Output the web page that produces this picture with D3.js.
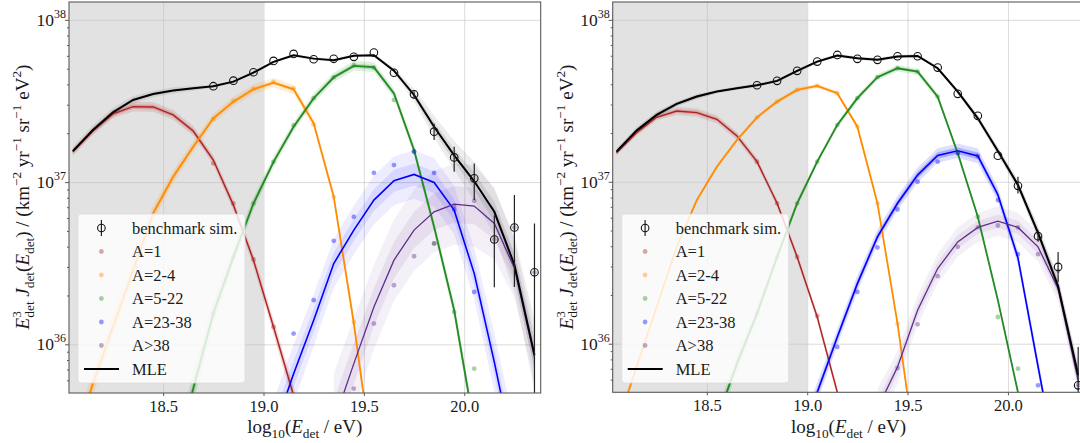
<!DOCTYPE html>
<html>
<head>
<meta charset="utf-8">
<script src="https://cdn.jsdelivr.net/npm/d3@7"></script>
<style>
  body { margin: 0; background: #fff; }
</style>
</head>
<body>
<svg id="chart" width="1080" height="443"></svg>
<script>
// bin centres, log10(E/eV)
const logE = [18.05, 18.15, 18.25, 18.35, 18.45, 18.55, 18.65, 18.75, 18.85, 18.95, 19.05, 19.15,
              19.25, 19.35, 19.45, 19.55, 19.65, 19.75, 19.85, 19.95, 20.05, 20.15, 20.25, 20.35];
const xTicks = [18.5, 19.0, 19.5, 20.0];
const yTicks = [36, 37, 38];
const groups = ["A=1", "A=2-4", "A=5-22", "A=23-38", "A>38"];
const groupColors = ["#b22222", "#ff8c00", "#228b22", "#0000ff", "#5f2d8c"];
const groupWidths = [1.4, 1.8, 1.8, 1.6, 1.3];
const _ = null;

// ---- left panel (values are log10 of E^3 J) ----
const leftTotal = [37.191, 37.321, 37.430, 37.506, 37.543, 37.564, 37.578, 37.591, 37.619, 37.675, 37.741, 37.782,
                   37.761, 37.751, 37.778, 37.782, 37.687, 37.537, 37.341, 37.165, 37.005, 36.817, 36.490, 35.935];
const leftBench   = [_, _, _, _, _, _, _, 37.591, 37.625, 37.677, 37.747, 37.790,
                     37.757, 37.760, 37.772, 37.798, 37.674, 37.541, 37.311, 37.152, 37.023, 36.646, 36.720, 36.444];
const leftBenchLo = [_, _, _, _, _, _, _, _, _, _, _, _, _, _, _, _, _, 37.52, 37.26, 37.064, 36.889, 36.352, 36.354, 35.0];
const leftBenchHi = [_, _, _, _, _, _, _, _, _, _, _, _, _, _, _, _, _, 37.56, 37.36, 37.218, 37.115, 36.796, 36.920, 36.745];

const leftA1   = [37.187, 37.315, 37.420, 37.465, 37.463, 37.414, 37.315, 37.136, 36.858, 36.519, 36.107, 35.685,
                  35.25, _, _, _, _, _, _, _, _, _, _, _];
const leftA24  = [35.35, 35.759, 36.107, 36.457, 36.807, 37.033, 37.218, 37.393, 37.496, 37.572, 37.613, 37.572,
                  37.362, 36.909, 36.13, 35.22, _, _, _, _, _, _, _, _];
const leftA522 = [_, _, _, _, _, 35.27, 35.727, 36.19, 36.539, 36.868, 37.125, 37.341,
                  37.517, 37.646, 37.716, 37.708, 37.547, 37.198, 36.724, 36.210, 35.49, _, _, _];
const leftA2338 = [_, _, _, _, _, _, _, _, _, _, 35.46, 35.819,
                   36.148, 36.498, 36.704, 36.889, 37.008, 37.047, 36.998, 36.827, 36.436, 35.89, 35.3, _];
const leftA38  = [_, _, _, _, _, _, _, _, _, _, _, _,
                  _, 35.52, 35.881, 36.230, 36.519, 36.704, 36.817, 36.864, 36.852, 36.745, 36.470, 35.920];

const leftDotA1   = [_, _, _, _, _, _, _, 37.115, 36.868, 36.523, 36.107, _, _, _, _, _, _, _, _, _, _, _, _, _];
const leftDotA24  = [_, _, _, _, _, _, _, 37.389, 37.500, 37.575, 37.617, 37.578, 37.356, 36.909, 36.138, _, _, _, _, _, _, _, _, _];
const leftDotA522 = [_, _, _, _, _, _, _, 36.19, 36.539, 36.868, 37.125, 37.35, 37.517, 37.646, 37.72, 37.705, 37.506, 37.19, 36.621, 36.2, 35.85, _, _, _];
const leftDotA2338 = [_, _, _, _, _, _, _, _, _, _, _, 36.066, 36.272, 36.638, 36.786, 37.057, 37.105, 37.187, 37.057, 36.83, 36.323, _, _, _];
const leftDotA38  = [_, _, _, _, _, _, _, _, _, _, _, _, _, _, 35.727, 36.128, 36.364, 36.543, 36.622, 36.852, 36.885, 36.646, 36.720, 36.444];

// spread of the posterior sample curves, dex
const leftBandTotal = [0.03, 0.03, 0.03, 0.025, 0.02, 0.02, 0.015, 0.01, 0.01, 0.01, 0.01, 0.01,
                       0.01, 0.01, 0.01, 0.01, 0.02, 0.04, 0.07, 0.09, 0.12, 0.14, 0.17, 0.22];
const leftBandA1   = [0.02, 0.02, 0.025, 0.03, 0.03, 0.03, 0.03, 0.03, 0.035, 0.04, 0.05, 0.06, 0.07, _, _, _, _, _, _, _, _, _, _, _];
const leftBandA24  = [0.1, 0.08, 0.07, 0.06, 0.05, 0.04, 0.035, 0.03, 0.03, 0.03, 0.03, 0.03, 0.03, 0.03, 0.04, 0.05, _, _, _, _, _, _, _, _];
const leftBandA522 = [_, _, _, _, _, 0.1, 0.09, 0.07, 0.05, 0.04, 0.035, 0.03, 0.03, 0.03, 0.03, 0.03, 0.03, 0.035, 0.04, 0.05, 0.06, _, _, _];
const leftBandA2338 = [_, _, _, _, _, _, _, _, _, _, 0.2, 0.18, 0.16, 0.15, 0.15, 0.15, 0.15, 0.15, 0.15, 0.15, 0.16, 0.18, 0.2, _];
const leftBandA38  = [_, _, _, _, _, _, _, _, _, _, _, _, _, 0.3, 0.28, 0.26, 0.25, 0.25, 0.25, 0.25, 0.25, 0.22, 0.18, 0.15];

// ---- right panel ----
const rightTotal = [37.186, 37.316, 37.413, 37.481, 37.526, 37.557, 37.578, 37.596, 37.623, 37.685, 37.742, 37.779,
                    37.763, 37.753, 37.773, 37.777, 37.701, 37.557, 37.392, 37.190, 36.980, 36.685, 36.355, 35.805];
const rightBench   = [_, _, _, _, _, _, _, 37.596, 37.623, 37.685, 37.742, 37.783,
                      37.759, 37.753, 37.775, 37.775, 37.705, 37.543, 37.407, 37.161, 36.975, 36.664, 36.474, 35.743];
const rightBenchLo = [_, _, _, _, _, _, _, _, _, _, _, _, _, _, _, _, _, _, _, _, 36.928, 36.63, 36.381, 35.0];
const rightBenchHi = [_, _, _, _, _, _, _, _, _, _, _, _, _, _, _, _, _, _, _, _, 37.031, 36.70, 36.567, 35.980];

const rightA1   = [37.179, 37.303, 37.398, 37.437, 37.427, 37.386, 37.283, 37.124, 36.867, 36.536, 36.165, 35.70,
                   35.24, _, _, _, _, _, _, _, _, _, _, _];
const rightA24  = [35.486, 35.856, 36.227, 36.598, 36.887, 37.093, 37.258, 37.398, 37.495, 37.567, 37.592, 37.547,
                   37.340, 36.867, 36.124, 35.24, _, _, _, _, _, _, _, _];
const rightA522 = [_, _, _, _, _, 35.53, 35.877, 36.186, 36.536, 36.867, 37.124, 37.351,
                   37.516, 37.646, 37.701, 37.680, 37.526, 37.176, 36.784, 36.268, 35.70, 35.15, _, _];
const rightA2338 = [_, _, _, _, _, _, _, _, _, 35.36, 35.70, 36.041,
                    36.371, 36.660, 36.867, 37.041, 37.162, 37.191, 37.160, 36.920, 36.530, 35.86, 35.2, _];
const rightA38  = [_, _, _, _, _, _, _, _, _, _, _, _,
                   _, 35.60, 35.856, 36.207, 36.464, 36.629, 36.718, 36.757, 36.718, 36.598, 36.340, 35.774];

const rightDotA1   = [_, _, _, _, _, _, _, 37.124, 36.867, 36.536, 36.171, _, _, _, _, _, _, _, _, _, _, _, _, _];
const rightDotA24  = [_, _, _, _, _, _, _, 37.398, 37.495, 37.567, 37.592, 37.547, 37.340, 36.867, 36.124, _, _, _, _, _, _, _, _, _];
const rightDotA522 = [_, _, _, _, _, _, _, 36.186, 36.536, 36.867, 37.124, 37.35, 37.516, 37.646, 37.701, 37.68, 37.526, 37.18, 36.784, 36.165, 35.846, _, _, _];
const rightDotA2338 = [_, _, _, _, _, _, _, _, _, _, _, 35.98, 36.32, 36.594, 36.829, 37.0, 37.124, 37.176, 37.159, 36.887, 36.553, 35.743, _, _];
const rightDotA38  = [_, _, _, _, _, _, _, _, _, _, _, _, _, _, 35.85, 36.12, 36.417, 36.598, 36.718, 36.730, 36.718, 36.553, 36.45, 35.743];

const rightBandTotal = [0.02, 0.02, 0.02, 0.015, 0.015, 0.01, 0.01, 0.01, 0.01, 0.01, 0.01, 0.01,
                        0.01, 0.01, 0.01, 0.01, 0.01, 0.015, 0.02, 0.025, 0.03, 0.04, 0.05, 0.07];
const rightBandA1   = [0.015, 0.02, 0.02, 0.025, 0.025, 0.025, 0.025, 0.025, 0.025, 0.025, 0.03, 0.03, 0.03, _, _, _, _, _, _, _, _, _, _, _];
const rightBandA24  = [0.03, 0.025, 0.02, 0.015, 0.015, 0.015, 0.015, 0.015, 0.015, 0.015, 0.015, 0.015, 0.015, 0.015, 0.015, 0.015, _, _, _, _, _, _, _, _];
const rightBandA522 = [_, _, _, _, _, 0.06, 0.05, 0.04, 0.03, 0.025, 0.02, 0.02, 0.02, 0.02, 0.02, 0.02, 0.02, 0.02, 0.015, 0.015, 0.015, 0.015, _, _];
const rightBandA2338 = [_, _, _, _, _, _, _, _, _, 0.07, 0.06, 0.05, 0.05, 0.045, 0.045, 0.045, 0.045, 0.045, 0.045, 0.045, 0.045, 0.05, 0.05, _];
const rightBandA38  = [_, _, _, _, _, _, _, _, _, _, _, _, _, 0.12, 0.1, 0.09, 0.09, 0.09, 0.09, 0.09, 0.09, 0.09, 0.08, 0.07];

const serif = '"Liberation Serif", "DejaVu Serif", "Times New Roman", serif';
const svg = d3.select("#chart");
const xDomain = [18.031, 20.381];
const yDomain = [Math.pow(10, 35.70), Math.pow(10, 38.11)];

const panels = [
  { x0: 69, y0: 2, w: 471.7, h: 391,
    total: leftTotal, bandTotal: leftBandTotal,
    bench: leftBench, benchLo: leftBenchLo, benchHi: leftBenchHi,
    comps: [leftA1, leftA24, leftA522, leftA2338, leftA38],
    dots: [leftDotA1, leftDotA24, leftDotA522, leftDotA2338, leftDotA38],
    bands: [leftBandA1, leftBandA24, leftBandA522, leftBandA2338, leftBandA38] },
  { x0: 612.7, y0: 2, w: 471.7, h: 390.3,
    total: rightTotal, bandTotal: rightBandTotal,
    bench: rightBench, benchLo: rightBenchLo, benchHi: rightBenchHi,
    comps: [rightA1, rightA24, rightA522, rightA2338, rightA38],
    dots: [rightDotA1, rightDotA24, rightDotA522, rightDotA2338, rightDotA38],
    bands: [rightBandA1, rightBandA24, rightBandA522, rightBandA2338, rightBandA38] }
];

const fs = 16.5;
const labelFs = 19;
const p10 = v => Math.pow(10, v);

// text made of pieces: {t, it, sup, sub, back}
function richText(sel, parts, size) {
  let shift = 0;
  parts.forEach(pc => {
    const target = pc.sup ? -0.42 * size : pc.sub ? 0.25 * size : 0;
    const ts = sel.append("tspan").text(pc.t)
      .attr("dy", target - shift)
      .style("font-size", (pc.sup || pc.sub ? 0.7 * size : size) + "px");
    if (pc.it) ts.style("font-style", "italic");
    if (pc.back) ts.attr("dx", -pc.back);
    shift = target;
  });
}

const yLabelParts = [
  { t: "E", it: true }, { t: "3", sup: true }, { t: "det", sub: true, back: 6.5 },
  { t: " J", it: true }, { t: "det", sub: true }, { t: "(" }, { t: "E", it: true }, { t: "det", sub: true },
  { t: ")  /  (km" }, { t: "−2", sup: true }, { t: " yr" }, { t: "−1", sup: true },
  { t: " sr" }, { t: "−1", sup: true }, { t: " eV" }, { t: "2", sup: true }, { t: ")" }
];
const xLabelParts = [
  { t: "log" }, { t: "10", sub: true }, { t: "(" }, { t: "E", it: true }, { t: "det", sub: true }, { t: "  /  eV)" }
];

function drawPanel(p, idx) {
  const g = svg.append("g").attr("transform", `translate(${p.x0},${p.y0})`);
  const x = d3.scaleLinear().domain(xDomain).range([0, p.w]);
  const y = d3.scaleLog().domain(yDomain).range([p.h, 0]);

  g.append("clipPath").attr("id", "clip" + idx)
    .append("rect").attr("width", p.w).attr("height", p.h);

  // shaded low-energy region
  g.append("rect").attr("width", x(19.0)).attr("height", p.h).attr("fill", "#e2e2e2");

  // grid
  g.append("g").attr("transform", `translate(0,${p.h})`)
    .call(d3.axisBottom(x).tickValues(xTicks).tickSize(-p.h).tickFormat(""))
    .call(s => { s.select(".domain").remove(); s.selectAll("line").attr("stroke", "#bdbdbd").attr("stroke-opacity", 0.55); });
  g.append("g")
    .call(d3.axisLeft(y).tickValues(yTicks.map(p10)).tickSize(-p.w).tickFormat(""))
    .call(s => { s.select(".domain").remove(); s.selectAll("line").attr("stroke", "#bdbdbd").attr("stroke-opacity", 0.55); });

  const plot = g.append("g").attr("clip-path", `url(#clip${idx})`);
  const rows = (vals, band) => logE.map((e, i) => ({ e, v: vals[i], s: band ? band[i] : 0 }));
  const line = d3.line().defined(d => d.v != null).x(d => x(d.e)).y(d => y(p10(d.v)));
  const area = k => d3.area().defined(d => d.v != null && d.s != null)
    .x(d => x(d.e)).y0(d => y(p10(d.v - k * d.s))).y1(d => y(p10(d.v + k * d.s)));

  // sample bands: wide bands are made of few sparse curves, so they look paler
  const bandSeries = p.comps.map((c, i) => ({ rows: rows(c, p.bands[i]), color: groupColors[i], s: p.bands[i] }))
    .concat([{ rows: rows(p.total, p.bandTotal), color: "#000", s: p.bandTotal }]);
  bandSeries.forEach(b => {
    const wide = d3.max(b.s) > 0.1;
    plot.append("path").datum(b.rows).attr("d", area(1)).attr("fill", b.color)
      .attr("fill-opacity", wide ? 0.07 : 0.13);
    plot.append("path").datum(b.rows).attr("d", area(0.45)).attr("fill", b.color)
      .attr("fill-opacity", wide ? 0.09 : 0.22);
  });

  // MLE lines
  p.comps.forEach((c, i) => {
    plot.append("path").datum(rows(c)).attr("d", line)
      .attr("fill", "none").attr("stroke", groupColors[i]).attr("stroke-width", groupWidths[i]);
  });
  plot.append("path").datum(rows(p.total)).attr("d", line)
    .attr("fill", "none").attr("stroke", "#000").attr("stroke-width", 2);

  // benchmark composition dots
  p.dots.forEach((c, i) => {
    plot.append("g").selectAll("circle")
      .data(rows(c).filter(d => d.v != null))
      .join("circle")
      .attr("cx", d => x(d.e)).attr("cy", d => y(p10(d.v))).attr("r", 2.4)
      .attr("fill", groupColors[i]).attr("fill-opacity", 0.4);
  });

  // benchmark total with error bars
  const bench = logE.map((e, i) => ({ e, v: p.bench[i], lo: p.benchLo[i], hi: p.benchHi[i] }))
    .filter(d => d.v != null);
  plot.append("g").selectAll("line")
    .data(bench.filter(d => d.lo != null))
    .join("line")
    .attr("x1", d => x(d.e)).attr("x2", d => x(d.e))
    .attr("y1", d => y(p10(d.lo))).attr("y2", d => y(p10(d.hi)))
    .attr("stroke", "#222").attr("stroke-width", 1.2);
  plot.append("g").selectAll("circle")
    .data(bench)
    .join("circle")
    .attr("cx", d => x(d.e)).attr("cy", d => y(p10(d.v))).attr("r", 3.8)
    .attr("fill", "none").attr("stroke", "#111").attr("stroke-width", 1.1);

  // frame
  g.append("rect").attr("width", p.w).attr("height", p.h)
    .attr("fill", "none").attr("stroke", "#5a5a5a").attr("stroke-width", 1.1);

  // x axis
  g.append("g").attr("transform", `translate(0,${p.h})`)
    .call(d3.axisBottom(x).tickValues(xTicks).tickSize(3).tickPadding(4).tickFormat(d3.format(".1f")))
    .call(s => {
      s.select(".domain").remove();
      s.selectAll("line").attr("stroke", "#5a5a5a");
      s.selectAll("text").style("font-size", fs + "px");
    });

  // y axis: major + minor ticks
  const minor = [];
  [35, 36, 37].forEach(n => { for (let k = 2; k <= 9; k++) minor.push(k * p10(n)); });
  g.append("g")
    .call(d3.axisLeft(y).tickValues(minor.filter(v => v > yDomain[0] && v < yDomain[1])).tickSize(2).tickFormat(""))
    .call(s => { s.select(".domain").remove(); s.selectAll("line").attr("stroke", "#5a5a5a"); });
  const yAx = g.append("g")
    .call(d3.axisLeft(y).tickValues(yTicks.map(p10)).tickSize(4).tickFormat(""))
    .call(s => { s.select(".domain").remove(); s.selectAll("line").attr("stroke", "#5a5a5a"); });
  yTicks.forEach(n => {
    const t = yAx.append("text").attr("x", -3).attr("y", y(p10(n)) + 6)
      .attr("text-anchor", "end").style("font-size", "17.5px");
    t.append("tspan").text("10");
    t.append("tspan").text(n).attr("dy", -8).style("font-size", "12px");
  });

  // axis titles
  const yl = g.append("text").attr("text-anchor", "middle")
    .attr("transform", `translate(-40,${195}) rotate(-90)`).style("font-size", labelFs + "px");
  richText(yl, yLabelParts, labelFs);
  const xl = g.append("text").attr("text-anchor", "middle")
    .attr("x", p.w / 2).attr("y", 431).style("font-size", labelFs + "px");
  richText(xl, xLabelParts, labelFs);

  // legend
  const lg = g.append("g").attr("transform", "translate(9,212)");
  lg.append("rect").attr("width", 167).attr("height", 169).attr("rx", 3)
    .attr("fill", "#fff").attr("fill-opacity", 0.82)
    .attr("stroke", "#dcdcdc").attr("stroke-opacity", 0.8);
  const rowY = i => 14 + i * 23.5;
  const mx = 23.4, tx = 54;
  lg.append("line").attr("x1", mx).attr("x2", mx).attr("y1", rowY(0) - 8).attr("y2", rowY(0) + 8)
    .attr("stroke", "#222").attr("stroke-width", 1.2);
  lg.append("circle").attr("cx", mx).attr("cy", rowY(0)).attr("r", 3.8)
    .attr("fill", "none").attr("stroke", "#111").attr("stroke-width", 1.1);
  lg.append("text").attr("x", tx).attr("y", rowY(0) + 5.5).style("font-size", fs + "px").text("benchmark sim.");
  groups.forEach((name, i) => {
    lg.append("circle").attr("cx", mx).attr("cy", rowY(i + 1)).attr("r", 2.4)
      .attr("fill", groupColors[i]).attr("fill-opacity", 0.4);
    lg.append("text").attr("x", tx).attr("y", rowY(i + 1) + 5.5).style("font-size", fs + "px").text(name);
  });
  lg.append("line").attr("x1", 6).attr("x2", 41).attr("y1", rowY(6)).attr("y2", rowY(6))
    .attr("stroke", "#000").attr("stroke-width", 2);
  lg.append("text").attr("x", tx).attr("y", rowY(6) + 5.5).style("font-size", fs + "px").text("MLE");
}

panels.forEach(drawPanel);

// serif everywhere (axis groups carry their own sans-serif attribute)
svg.selectAll("text").style("font-family", serif).attr("fill", "#1a1a1a");
</script>
</body>
</html>
